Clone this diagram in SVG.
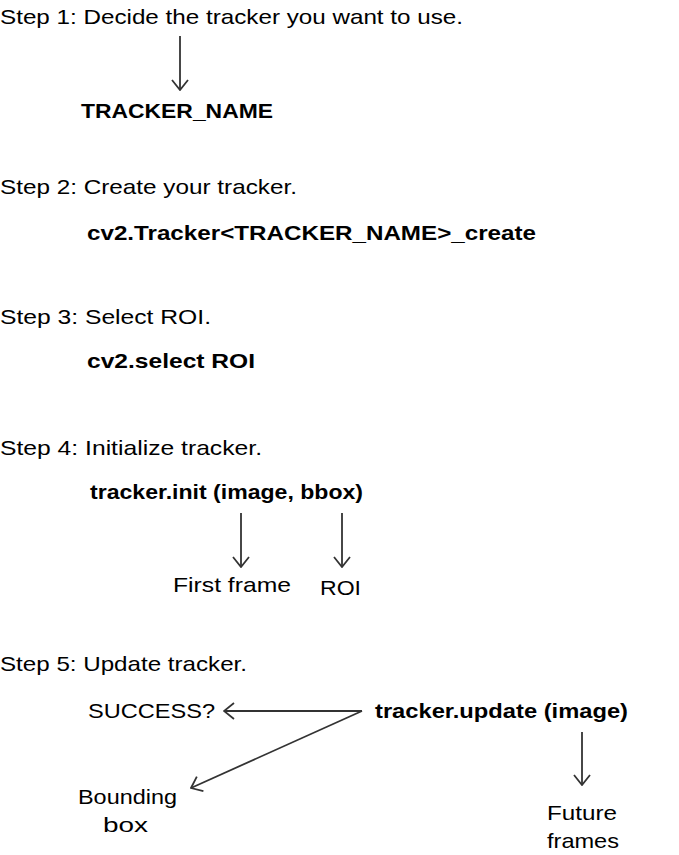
<svg xmlns="http://www.w3.org/2000/svg" width="679" height="855" viewBox="0 0 679 855">
<style>
text{font-family:"Liberation Sans",Arial,sans-serif;font-size:21px;fill:#000}
.b{font-weight:bold}
.c{stroke:#333;stroke-width:1.8;fill:none}
</style>
<defs>
<marker id="ah" viewBox="0 0 12 18" refX="11" refY="9" markerWidth="12" markerHeight="18" markerUnits="userSpaceOnUse" orient="auto">
<path d="M1,1 L11,9 L1,17" fill="none" stroke="#333" stroke-width="1.8"/>
</marker>
</defs>
<rect width="679" height="855" fill="#fff"/>
<g id="step1"><text x="0" y="24" textLength="463" lengthAdjust="spacingAndGlyphs">Step 1: Decide the tracker you want to use.</text></g>
<g id="tracker_name"><text class="b" x="81" y="118" textLength="192" lengthAdjust="spacingAndGlyphs">TRACKER_NAME</text></g>
<g id="step2"><text x="0" y="194" textLength="297" lengthAdjust="spacingAndGlyphs">Step 2: Create your tracker.</text></g>
<g id="create"><text class="b" x="87" y="240" textLength="449" lengthAdjust="spacingAndGlyphs">cv2.Tracker&lt;TRACKER_NAME&gt;_create</text></g>
<g id="step3"><text x="0" y="324" textLength="211" lengthAdjust="spacingAndGlyphs">Step 3: Select ROI.</text></g>
<g id="select"><text class="b" x="87" y="368" textLength="168" lengthAdjust="spacingAndGlyphs">cv2.select ROI</text></g>
<g id="step4"><text x="0" y="455" textLength="262" lengthAdjust="spacingAndGlyphs">Step 4: Initialize tracker.</text></g>
<g id="init"><text class="b" x="90" y="499" textLength="273" lengthAdjust="spacingAndGlyphs">tracker.init (image, bbox)</text></g>
<g id="first_frame"><text x="173" y="592" textLength="118" lengthAdjust="spacingAndGlyphs">First frame</text></g>
<g id="roi"><text x="320" y="595" textLength="41" lengthAdjust="spacingAndGlyphs">ROI</text></g>
<g id="step5"><text x="0" y="671" textLength="247" lengthAdjust="spacingAndGlyphs">Step 5: Update tracker.</text></g>
<g id="success"><text x="88" y="718" textLength="127" lengthAdjust="spacingAndGlyphs">SUCCESS?</text></g>
<g id="update"><text class="b" x="375" y="718" textLength="253" lengthAdjust="spacingAndGlyphs">tracker.update (image)</text></g>
<g id="bbox"><text x="78" y="804" textLength="99" lengthAdjust="spacingAndGlyphs">Bounding</text><text x="103" y="832" textLength="45" lengthAdjust="spacingAndGlyphs">box</text></g>
<g id="future"><text x="547" y="820" textLength="70" lengthAdjust="spacingAndGlyphs">Future</text><text x="547" y="848" textLength="72" lengthAdjust="spacingAndGlyphs">frames</text></g>
<g id="connectors">
<line class="c" x1="180" y1="36" x2="180" y2="90" marker-end="url(#ah)"/>
<line class="c" x1="241" y1="513" x2="241" y2="567" marker-end="url(#ah)"/>
<line class="c" x1="342" y1="513" x2="342" y2="567" marker-end="url(#ah)"/>
<line class="c" x1="362" y1="711" x2="224" y2="711" marker-end="url(#ah)"/>
<line class="c" x1="362" y1="711" x2="191" y2="788" marker-end="url(#ah)"/>
<line class="c" x1="582" y1="732" x2="582" y2="785" marker-end="url(#ah)"/>
</g>
</svg>
